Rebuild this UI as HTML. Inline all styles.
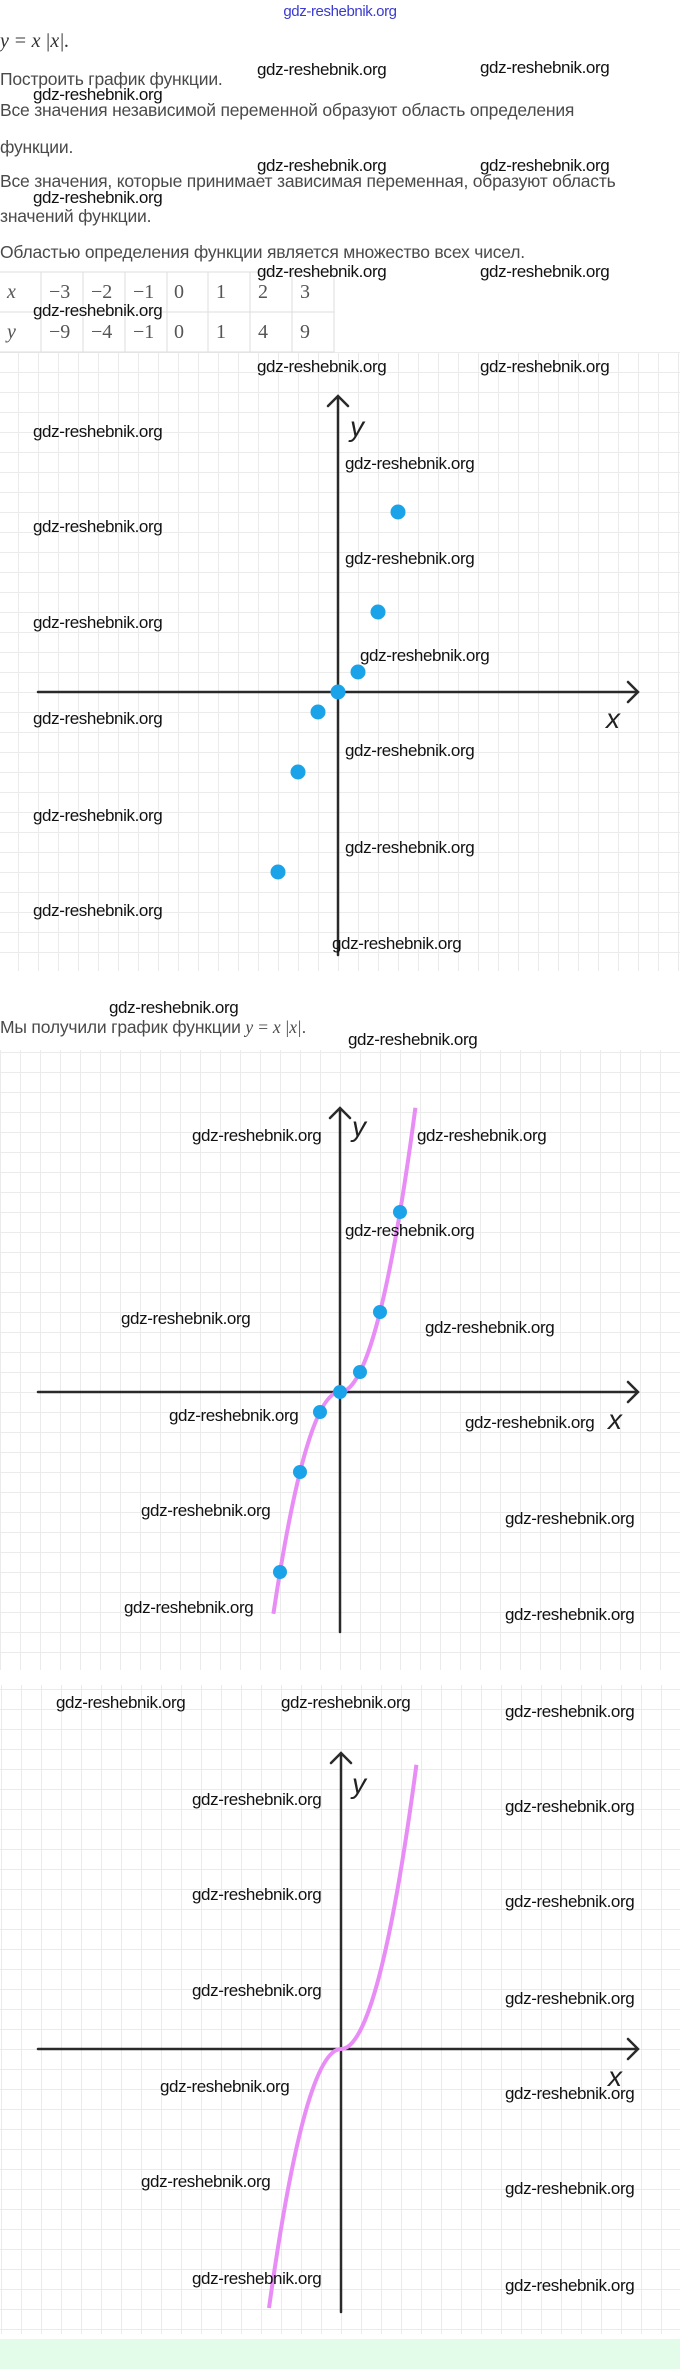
<!DOCTYPE html>
<html><head><meta charset="utf-8"><style>
body{margin:0;width:680px;height:2369px;position:relative;background:#fff;overflow:hidden;font-family:"Liberation Sans",sans-serif}
.w{position:absolute;font-family:"Liberation Sans",sans-serif;font-size:17px;line-height:20px;color:#111;white-space:nowrap;letter-spacing:-0.4px}
.t{position:absolute;left:0;font-size:17.5px;line-height:22px;color:#4a4a4a;white-space:nowrap;letter-spacing:-0.2px}
.m{font-family:"Liberation Serif",serif;font-style:italic}
.tc{position:absolute;font-family:"Liberation Serif",serif;font-size:20px;color:#555;line-height:20px}
</style></head><body>
<svg width="680" height="2369" style="position:absolute;left:0;top:0">
<defs>
<pattern id="p1" x="18" y="12" width="20" height="20" patternUnits="userSpaceOnUse"><path d="M0 0V20M0 0H20" stroke="#ebebeb" stroke-width="2" fill="none"/></pattern>
<pattern id="p2" x="0" y="12" width="20" height="20" patternUnits="userSpaceOnUse"><path d="M0 0V20M0 0H20" stroke="#ebebeb" stroke-width="2" fill="none"/></pattern>
<pattern id="p3" x="1" y="9" width="20" height="20" patternUnits="userSpaceOnUse"><path d="M0 0V20M0 0H20" stroke="#ebebeb" stroke-width="2" fill="none"/></pattern>
</defs>
<rect x="0" y="352" width="680" height="619" fill="url(#p1)"/>
<rect x="0" y="1050" width="680" height="620" fill="url(#p2)"/>
<rect x="0" y="1685" width="680" height="649" fill="url(#p3)"/>
<rect x="0" y="2339" width="680" height="30" fill="#e3fbe9"/>
<g stroke="#dedede" stroke-width="1" fill="none">
<path d="M0 272H334M0 312H334M0 352H334M41 272V352M83 272V352M125 272V352M167 272V352M208 272V352M250 272V352M292 272V352M334 272V352"/>
</g>
<g stroke="#2a2a2a" stroke-width="2.5" fill="none" stroke-linecap="round">
<path d="M38 692H638M628 682L638 692L628 702"/>
<path d="M338 955V396M328 406L338 396L348 406"/>
</g>
<g fill="#1aa3e8">
<circle cx="278" cy="872" r="7.5"/><circle cx="298" cy="772" r="7.5"/><circle cx="318" cy="712" r="7.5"/><circle cx="338" cy="692" r="7.5"/><circle cx="358" cy="672" r="7.5"/><circle cx="378" cy="612" r="7.5"/><circle cx="398" cy="512" r="7.5"/>
</g>
<g stroke="#2a2a2a" stroke-width="2.5" fill="none" stroke-linecap="round">
<path d="M38 1392H638M628 1382L638 1392L628 1402"/>
<path d="M340 1632V1108M330 1118L340 1108L350 1118"/>
</g>
<path d="M273.4 1613.8 Q306.7 1392 340 1392 Q377.7 1392 415.4 1107.8" stroke="#e88cf6" stroke-width="4" fill="none"/>
<g fill="#1aa3e8">
<circle cx="280" cy="1572" r="7"/><circle cx="300" cy="1472" r="7"/><circle cx="320" cy="1412" r="7"/><circle cx="340" cy="1392" r="7"/><circle cx="360" cy="1372" r="7"/><circle cx="380" cy="1312" r="7"/><circle cx="400" cy="1212" r="7"/>
</g>
<g stroke="#2a2a2a" stroke-width="2.5" fill="none" stroke-linecap="round">
<path d="M38 2049H638M628 2039L638 2049L628 2059"/>
<path d="M341 2312V1753M331 1763L341 1753L351 1763"/>
</g>
<path d="M269 2308 Q305 2049 341 2049 Q378.7 2049 416.4 1764.8" stroke="#e88cf6" stroke-width="4" fill="none"/>
<g font-family="Liberation Sans,sans-serif" font-style="italic" font-size="28" fill="#222">
<text x="350" y="436">y</text><text x="606" y="728">x</text>
<text x="352" y="1136">y</text><text x="608" y="1429">x</text>
<text x="352" y="1793">y</text><text x="608" y="2086">x</text>
</g>
</svg>

<div class="w" style="left:0;width:680px;text-align:center;top:2px;color:#3a3ad0;font-size:15px">gdz-reshebnik.org</div>
<div class="t m" style="top:30px;font-size:20px;color:#333">y = x |x|.</div>
<div class="t" style="top:68px">Построить график функции.</div>
<div class="t" style="top:99px">Все значения независимой переменной образуют область определения</div>
<div class="t" style="top:136px">функции.</div>
<div class="t" style="top:170px">Все значения, которые принимает зависимая переменная, образуют область</div>
<div class="t" style="top:205px">значений функции.</div>
<div class="t" style="top:241px">Областью определения функции является множество всех чисел.</div>
<div class="t" style="top:1016px">Мы получили график функции <span class="m" style="font-family:'Liberation Serif',serif">y = x |x|</span>.</div>

<div class="tc m" style="left:7px;top:282px">x</div><div class="tc m" style="left:7px;top:322px">y</div>
<div class="tc" style="left:49px;top:282px">−3</div><div class="tc" style="left:91px;top:282px">−2</div><div class="tc" style="left:133px;top:282px">−1</div><div class="tc" style="left:174px;top:282px">0</div><div class="tc" style="left:216px;top:282px">1</div><div class="tc" style="left:258px;top:282px">2</div><div class="tc" style="left:300px;top:282px">3</div>
<div class="tc" style="left:49px;top:322px">−9</div><div class="tc" style="left:91px;top:322px">−4</div><div class="tc" style="left:133px;top:322px">−1</div><div class="tc" style="left:174px;top:322px">0</div><div class="tc" style="left:216px;top:322px">1</div><div class="tc" style="left:258px;top:322px">4</div><div class="tc" style="left:300px;top:322px">9</div>

<div class="w" style="left:257px;top:60px">gdz-reshebnik.org</div>
<div class="w" style="left:480px;top:58px">gdz-reshebnik.org</div>
<div class="w" style="left:33px;top:85px">gdz-reshebnik.org</div>
<div class="w" style="left:257px;top:156px">gdz-reshebnik.org</div>
<div class="w" style="left:480px;top:156px">gdz-reshebnik.org</div>
<div class="w" style="left:33px;top:188px">gdz-reshebnik.org</div>
<div class="w" style="left:257px;top:262px">gdz-reshebnik.org</div>
<div class="w" style="left:480px;top:262px">gdz-reshebnik.org</div>
<div class="w" style="left:33px;top:301px">gdz-reshebnik.org</div>

<div class="w" style="left:257px;top:357px">gdz-reshebnik.org</div>
<div class="w" style="left:480px;top:357px">gdz-reshebnik.org</div>
<div class="w" style="left:33px;top:422px">gdz-reshebnik.org</div>
<div class="w" style="left:345px;top:454px">gdz-reshebnik.org</div>
<div class="w" style="left:33px;top:517px">gdz-reshebnik.org</div>
<div class="w" style="left:345px;top:549px">gdz-reshebnik.org</div>
<div class="w" style="left:33px;top:613px">gdz-reshebnik.org</div>
<div class="w" style="left:360px;top:646px">gdz-reshebnik.org</div>
<div class="w" style="left:33px;top:709px">gdz-reshebnik.org</div>
<div class="w" style="left:345px;top:741px">gdz-reshebnik.org</div>
<div class="w" style="left:33px;top:806px">gdz-reshebnik.org</div>
<div class="w" style="left:345px;top:838px">gdz-reshebnik.org</div>
<div class="w" style="left:33px;top:901px">gdz-reshebnik.org</div>
<div class="w" style="left:332px;top:934px">gdz-reshebnik.org</div>

<div class="w" style="left:109px;top:998px">gdz-reshebnik.org</div>
<div class="w" style="left:348px;top:1030px">gdz-reshebnik.org</div>

<div class="w" style="left:192px;top:1126px">gdz-reshebnik.org</div>
<div class="w" style="left:417px;top:1126px">gdz-reshebnik.org</div>
<div class="w" style="left:345px;top:1221px">gdz-reshebnik.org</div>
<div class="w" style="left:121px;top:1309px">gdz-reshebnik.org</div>
<div class="w" style="left:425px;top:1318px">gdz-reshebnik.org</div>
<div class="w" style="left:169px;top:1406px">gdz-reshebnik.org</div>
<div class="w" style="left:465px;top:1413px">gdz-reshebnik.org</div>
<div class="w" style="left:141px;top:1501px">gdz-reshebnik.org</div>
<div class="w" style="left:505px;top:1509px">gdz-reshebnik.org</div>
<div class="w" style="left:124px;top:1598px">gdz-reshebnik.org</div>
<div class="w" style="left:505px;top:1605px">gdz-reshebnik.org</div>

<div class="w" style="left:56px;top:1693px">gdz-reshebnik.org</div>
<div class="w" style="left:281px;top:1693px">gdz-reshebnik.org</div>
<div class="w" style="left:505px;top:1702px">gdz-reshebnik.org</div>
<div class="w" style="left:192px;top:1790px">gdz-reshebnik.org</div>
<div class="w" style="left:505px;top:1797px">gdz-reshebnik.org</div>
<div class="w" style="left:192px;top:1885px">gdz-reshebnik.org</div>
<div class="w" style="left:505px;top:1892px">gdz-reshebnik.org</div>
<div class="w" style="left:192px;top:1981px">gdz-reshebnik.org</div>
<div class="w" style="left:505px;top:1989px">gdz-reshebnik.org</div>
<div class="w" style="left:160px;top:2077px">gdz-reshebnik.org</div>
<div class="w" style="left:505px;top:2084px">gdz-reshebnik.org</div>
<div class="w" style="left:141px;top:2172px">gdz-reshebnik.org</div>
<div class="w" style="left:505px;top:2179px">gdz-reshebnik.org</div>
<div class="w" style="left:192px;top:2269px">gdz-reshebnik.org</div>
<div class="w" style="left:505px;top:2276px">gdz-reshebnik.org</div>
</body></html>
